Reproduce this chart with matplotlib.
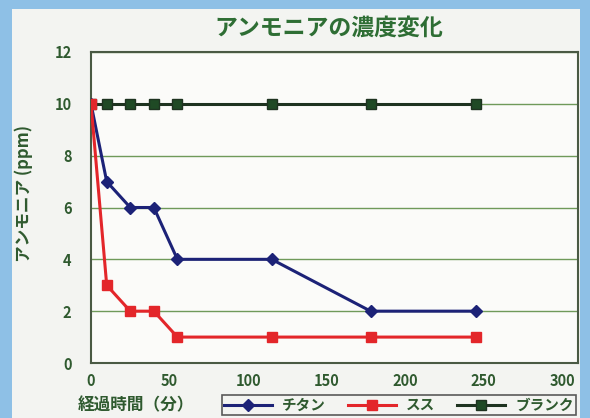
import matplotlib
matplotlib.use("Agg")
import matplotlib.pyplot as plt
from matplotlib.patches import Rectangle

plt.rcParams['font.family'] = ['Noto Sans CJK JP', 'DejaVu Sans']

# 経過時間（分）と各条件のアンモニア濃度 (ppm)
jikan = [0, 10, 25, 40, 55, 115, 178, 245]
titan = [10, 7, 6, 6, 4, 4, 2, 2]
susu = [10, 3, 2, 2, 1, 1, 1, 1]
blank = [10, 10, 10, 10, 10, 10, 10, 10]

x_ticks = [0, 50, 100, 150, 200, 250, 300]
y_ticks = [0, 2, 4, 6, 8, 10, 12]

text_green = '#2f5a2f'

fig = plt.figure(figsize=(5.9, 4.18), dpi=100)
fig.patch.set_facecolor('#8ec0e6')
# 白っぽいパネル
fig.add_artist(Rectangle((12 / 590, 0), 568 / 590, 409 / 418,
                         transform=fig.transFigure, facecolor='#f3f4f1',
                         edgecolor='none', zorder=0))

ax = fig.add_axes([91 / 590, 55 / 418, 487 / 590, 311 / 418])
ax.set_facecolor('#fbfbf9')

ax.plot(jikan, titan, color='#1c2277', lw=2.2, marker='D', markersize=6.5,
        label='チタン', zorder=3)
ax.plot(jikan, blank, color='#1e3320', lw=2.2, marker='s', markersize=6.5,
        markerfacecolor='#1f4a25', label='ブランク', zorder=3)
ax.plot(jikan, susu, color='#e3262a', lw=2.2, marker='s', markersize=6.5,
        label='スス', zorder=4)

ax.set_xlim(0, 310)
ax.set_ylim(0, 12)
ax.set_xticks(x_ticks)
ax.set_yticks(y_ticks)
ax.grid(axis='y', color='#6f9a5a', lw=1.0)
ax.set_axisbelow(True)
ax.tick_params(axis='y', length=0, pad=14, labelsize=10.5, colors=text_green)
ax.tick_params(axis='x', length=0, pad=7, labelsize=10.5, colors=text_green)
for lab in ax.get_xticklabels() + ax.get_yticklabels():
    lab.set_fontweight('bold')
for s in ax.spines.values():
    s.set_color('#4a5a44')
    s.set_linewidth(1.5)

ax.set_ylabel('アンモニア (ppm)', fontsize=12, fontweight='bold',
              color=text_green)
ax.yaxis.set_label_coords(-0.12, 0.545)
fig.text(329 / 590, 1 - 28 / 418, 'アンモニアの濃度変化', ha='center',
         va='center', fontsize=16.5, fontweight='bold', color='#2e6e34')
fig.text(78 / 590, 1 - 405 / 418, '経過時間（分）', ha='left', va='center',
         fontsize=12, fontweight='bold', color=text_green)

handles, labels = ax.get_legend_handles_labels()
order = [0, 2, 1]
leg = fig.legend([handles[i] for i in order], [labels[i] for i in order],
                 loc='center', bbox_to_anchor=(399 / 590, 1 - 405 / 418),
                 ncol=3, fontsize=10.5, frameon=True, fancybox=False,
                 edgecolor='#333333', facecolor='#f3f4f1', handlelength=3.3,
                 borderpad=0.15, columnspacing=1.5, handletextpad=0.7)
leg.get_frame().set_linewidth(1.2)
for t in leg.get_texts():
    t.set_color(text_green)
    t.set_fontweight('bold')

fig.savefig('out.png', dpi=100, facecolor=fig.get_facecolor())
